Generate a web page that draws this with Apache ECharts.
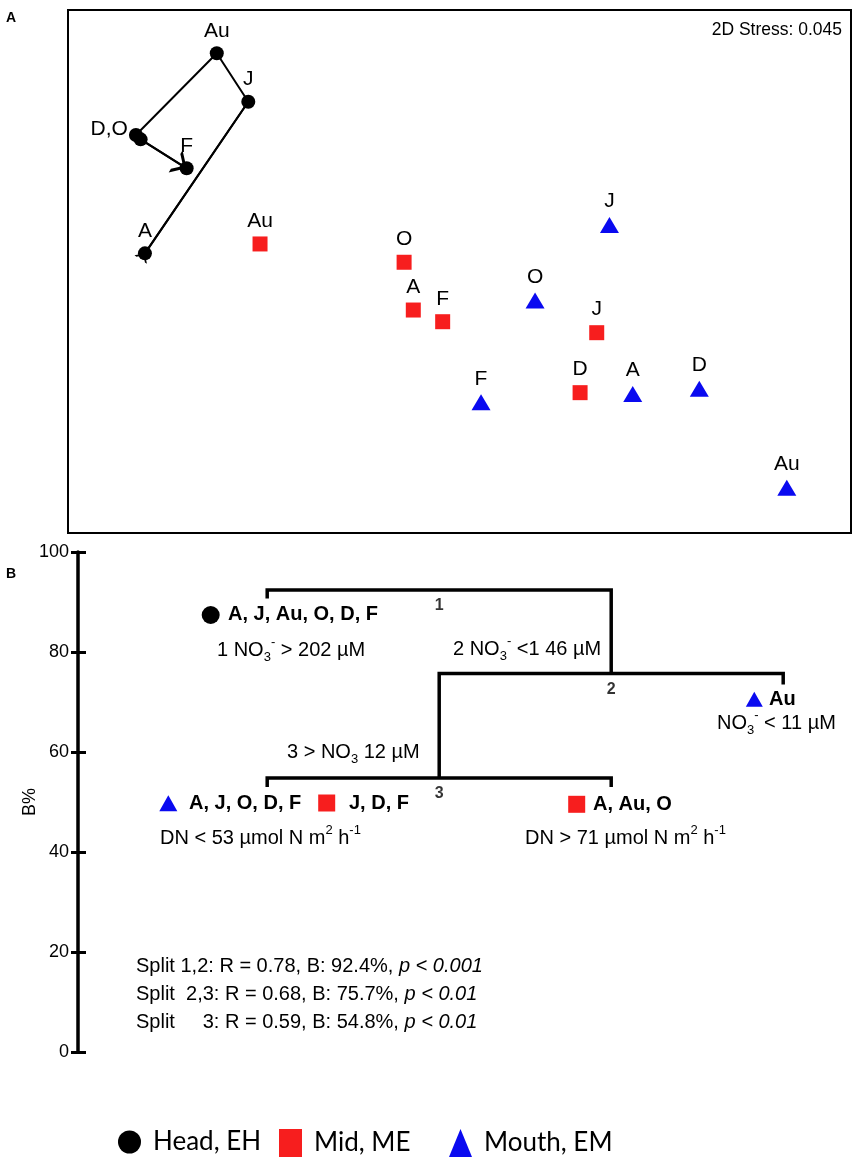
<!DOCTYPE html>
<html>
<head>
<meta charset="utf-8">
<title>NMDS and LINKTREE</title>
<script src="https://cdn.jsdelivr.net/npm/echarts@6/dist/echarts.min.js"></script>
<style>
    html, body { margin: 0; padding: 0; background: #fff; }
    #chart { width: 861px; height: 1169px; }
</style>
</head>
<body>
<div id="chart"></div>
<script>
var FONT = '"Liberation Sans", Arial, Helvetica, sans-serif';
var LEGEND_FONT = 'Lato, sans-serif';
var RED = '#f71e1e';
var BLUE = '#0a0af0';

// month codes, same order for every site (A, J, Au, O, D, F)
var months = ['A', 'J', 'Au', 'O', 'D', 'F'];

// NMDS coordinates
var headX = [-1.607, -1.079, -1.240, -1.653, -1.629, -1.394];
var headY = [0.104, 0.974, 1.252, 0.783, 0.758, 0.592];
var midX = [-0.236, 0.701, -1.019, -0.283, 0.616, -0.086];
var midY = [-0.221, -0.351, 0.158, 0.053, -0.695, -0.288];
var mouthX = [0.885, 0.766, 1.672, 0.386, 1.225, 0.110];
var mouthY = [-0.703, 0.267, -1.240, -0.167, -0.672, -0.750];
var stress = '0.045';

// LINKTREE splits (panel B)
var splitNames = ['1', '2', '3'];
var splitB = [92.4, 75.7, 54.8];
var splitLeftX = [1, 2, 1];
var splitRightX = [3, 4, 3];
var splitLeftEnd = [90.7, 54.8, 53.0];
var splitRightEnd = [75.7, 73.5, 53.0];
var splitTags = ['1,2', ' 2,3', '    3'];
var splitR = ['0.78', '0.68', '0.59'];
var splitP = ['0.001', '0.01', '0.01'];

var chart = echarts.init(document.getElementById('chart'));

function pts(xs, ys) {
    return xs.map(function (x, i) { return [x, ys[i], months[i]]; });
}

// head points: D and O overlap, so one label "D,O" on the left
var headData = pts(headX, headY).map(function (v, i) {
    var item = {value: v};
    if (months[i] === 'O') item.label = {position: 'left', distance: 1, offset: [0, -6], formatter: 'D,O'};
    if (months[i] === 'D') item.label = {show: false};
    return item;
});

// open arrow heads (tip in the middle of the symbol box)
var ARROW_TO = 'path://M50,87 L100,174 L84,174 L50,115 L16,174 L0,174 Z M50,0 L50.5,0 L50,0.5 Z';
var ARROW_FROM = 'path://M50,87 L100,0 L84,0 L50,59 L16,0 L0,0 Z M50,174 L50.5,174 L50,173.5 Z';
var iA = 0, iJ = 1, iD = 4, iF = 5;

var pointLabel = {
    show: true, position: 'top', distance: 5, color: '#000',
    fontFamily: FONT, fontSize: 21,
    formatter: function (p) { return p.value[2]; }
};

// dendrogram branches
var branchSeries = splitNames.map(function (n, i) {
    return {
        name: 'split ' + n, type: 'line', xAxisIndex: 1, yAxisIndex: 1,
        symbol: 'none', silent: true,
        lineStyle: {color: '#000', width: 3.5, join: 'miter', cap: 'butt'},
        data: [[splitLeftX[i], splitLeftEnd[i]], [splitLeftX[i], splitB[i]],
               [splitRightX[i], splitB[i]], [splitRightX[i], splitRightEnd[i]]]
    };
});

var nodeData = splitNames.map(function (n, i) {
    return [(splitLeftX[i] + splitRightX[i]) / 2, splitB[i], n];
});

var rich = {
    sub: {fontSize: 13, lineHeight: 13, verticalAlign: 'bottom', fontFamily: FONT},
    sup: {fontSize: 13, lineHeight: 13, verticalAlign: 'top', fontFamily: FONT},
    i: {fontSize: 20, fontStyle: 'italic', fontFamily: FONT}
};

function txt(x, y, text, opt) {
    opt = opt || {};
    return {
        type: 'text', x: x, y: y, silent: true,
        style: {
            text: text, fill: '#000', rich: rich,
            fontFamily: FONT, fontSize: opt.size || 20, fontWeight: opt.weight || 'normal',
            lineHeight: 28,
            textAlign: opt.align || 'left', align: opt.align || 'left',
            textVerticalAlign: 'middle', verticalAlign: 'middle'
        }
    };
}

function tri(cx, cy, w, h, color) {
    return {type: 'polygon', silent: true,
        shape: {points: [[cx - w / 2, cy + h / 2], [cx, cy - h / 2], [cx + w / 2, cy + h / 2]]},
        style: {fill: color}};
}

function sq(cx, cy, s, color) {
    return {type: 'rect', silent: true, shape: {x: cx - s / 2, y: cy - s / 2, width: s, height: s}, style: {fill: color}};
}

var graphics = [
    txt(6, 18, 'A', {size: 14, weight: 'bold'}),
    txt(6, 574, 'B', {size: 14, weight: 'bold'}),
    txt(842, 30, '2D Stress: ' + stress, {size: 17.5, align: 'right'}),

    {type: 'circle', silent: true, shape: {cx: 210.7, cy: 615, r: 9}, style: {fill: '#000'}},
    txt(228, 614, 'A, J, Au, O, D, F', {weight: 'bold'}),
    txt(217, 650, '1 NO{sub|3}{sup|-} > 202 µM'),
    txt(453, 649, '2 NO{sub|3}{sup|-} <1 46 µM'),
    txt(287, 752, '3 > NO{sub|3} 12 µM'),
    tri(754.3, 699.3, 17, 15, BLUE),
    txt(769, 699, 'Au', {weight: 'bold'}),
    txt(717, 723, 'NO{sub|3}{sup|-} < 11 µM'),
    tri(168.3, 803.3, 18, 16, BLUE),
    txt(189, 803, 'A, J, O, D, F', {weight: 'bold'}),
    sq(326.7, 803, 17, RED),
    txt(349, 803, 'J, D, F', {weight: 'bold'}),
    sq(576.7, 804.3, 17, RED),
    txt(593, 804, 'A, Au, O', {weight: 'bold'}),
    txt(160, 838, 'DN < 53 µmol N m{sup|2} h{sup|-1}'),
    txt(525, 838, 'DN > 71 µmol N m{sup|2} h{sup|-1}')
];

splitNames.forEach(function (n, i) {
    graphics.push(txt(136, 966 + i * 28,
        'Split ' + splitTags[i] + ': R = ' + splitR[i] + ', B: ' + splitB[i].toFixed(1) + '%, {i|p < ' + splitP[i] + '}'));
});

function legendItem(name, left, icon) {
    return {
        data: [{name: name, icon: icon}],
        left: left, top: 1129, padding: 0,
        itemWidth: 23, itemHeight: 28, selectedMode: false,
        itemStyle: {borderWidth: 0},
        textStyle: {fontFamily: LEGEND_FONT, fontSize: 26, color: '#000', padding: [0, 0, 0, 7]}
    };
}

var option = {
    animation: false,
    backgroundColor: '#fff',
    legend: [
        legendItem('Head, EH', 118, 'circle'),
        legendItem('Mid, ME', 279, 'rect'),
        legendItem('Mouth, EM', 449, 'triangle')
    ],
    grid: [
        {left: 68, top: 10, width: 783, height: 523, show: true, borderColor: '#000', borderWidth: 2, backgroundColor: 'transparent'},
        {left: 78, top: 552, width: 774, height: 500}
    ],
    xAxis: [
        {type: 'value', gridIndex: 0, min: -2, max: 2, show: false},
        {type: 'value', gridIndex: 1, min: -0.1, max: 4.4, show: false}
    ],
    yAxis: [
        {type: 'value', gridIndex: 0, min: -1.5, max: 1.5, show: false},
        {
            type: 'value', gridIndex: 1, position: 'left', min: 0, max: 100, interval: 20,
            name: 'B%', nameLocation: 'middle', nameGap: 39, nameRotate: 90, nameMoveOverlap: false,
            nameTextStyle: {fontFamily: FONT, fontSize: 18, color: '#000'},
            axisLine: {show: true, onZero: false, lineStyle: {color: '#000', width: 3.5}},
            axisTick: {show: true, length: 7, lineStyle: {color: '#000', width: 3}},
            axisLabel: {fontFamily: FONT, fontSize: 18, color: '#000', margin: 9},
            splitLine: {show: false}
        },
        {
            // inner half of the ticks
            type: 'value', gridIndex: 1, position: 'left', min: 0, max: 100, interval: 20,
            axisLine: {show: false, onZero: false},
            axisTick: {show: true, inside: true, length: 8, lineStyle: {color: '#000', width: 3}},
            axisLabel: {show: false},
            splitLine: {show: false}
        }
    ],
    series: [
        {
            name: 'Head, EH', type: 'line', xAxisIndex: 0, yAxisIndex: 0,
            symbol: 'circle', symbolSize: 14, z: 3,
            itemStyle: {color: '#000'},
            lineStyle: {color: '#000', width: 2},
            label: pointLabel,
            data: headData
        },
        {
            // arrow at the end of the path (D -> F)
            name: 'Head end', type: 'lines', coordinateSystem: 'cartesian2d',
            xAxisIndex: 0, yAxisIndex: 0, z: 2,
            symbol: ['none', ARROW_TO], symbolSize: [15, 26],
            lineStyle: {color: '#000', width: 2, opacity: 1},
            data: [{coords: [[headX[iD], headY[iD]], [headX[iF], headY[iF]]]}]
        },
        {
            // arrow at the start of the path (A -> J)
            name: 'Head start', type: 'lines', coordinateSystem: 'cartesian2d',
            xAxisIndex: 0, yAxisIndex: 0, z: 2,
            symbol: [ARROW_FROM, 'none'], symbolSize: [15, 26],
            lineStyle: {color: '#000', width: 2, opacity: 1},
            data: [{coords: [[headX[iA], headY[iA]], [headX[iJ], headY[iJ]]]}]
        },
        {
            name: 'Mid, ME', type: 'scatter', xAxisIndex: 0, yAxisIndex: 0,
            symbol: 'rect', symbolSize: 15,
            itemStyle: {color: RED, opacity: 1},
            label: pointLabel,
            data: pts(midX, midY)
        },
        {
            name: 'Mouth, EM', type: 'scatter', xAxisIndex: 0, yAxisIndex: 0,
            symbol: 'triangle', symbolSize: [19, 16],
            itemStyle: {color: BLUE, opacity: 1},
            label: pointLabel,
            data: pts(mouthX, mouthY)
        }
    ].concat(branchSeries, [{
        name: 'split nodes', type: 'scatter', xAxisIndex: 1, yAxisIndex: 1,
        symbolSize: 0, silent: true,
        label: {
            show: true, position: 'bottom', distance: 8, color: '#000',
            fontFamily: FONT, fontSize: 16, fontWeight: 'bold',
            formatter: function (p) { return p.value[2]; }
        },
        data: nodeData
    }]),
    graphic: graphics
};

chart.setOption(option);
</script>
</body>
</html>
